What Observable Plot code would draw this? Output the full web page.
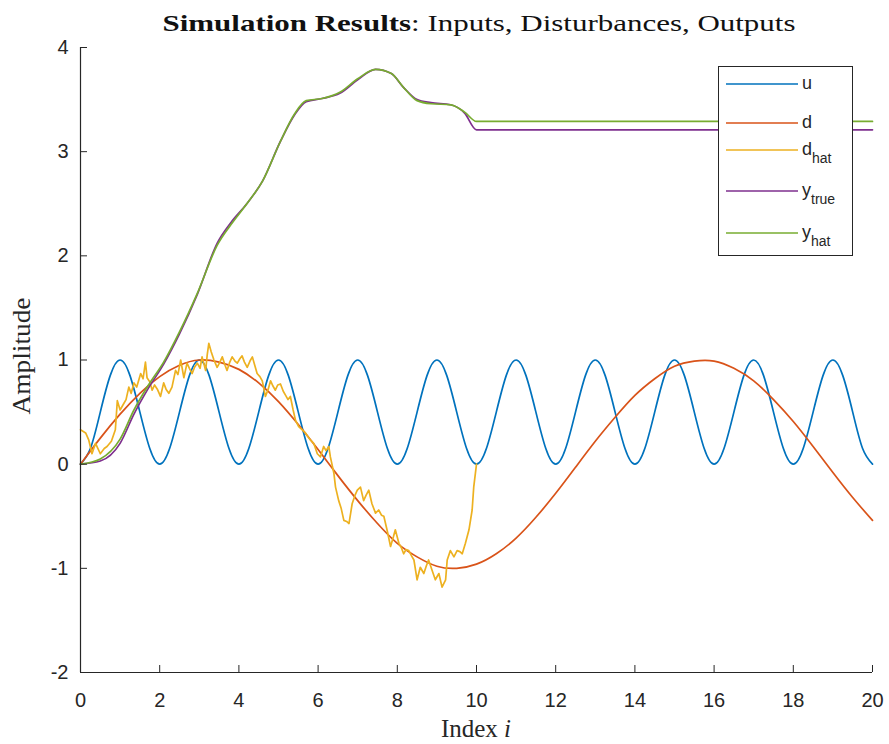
<!DOCTYPE html>
<html><head><meta charset="utf-8">
<script src="https://cdn.jsdelivr.net/npm/d3@7"></script>
<script src="https://cdn.jsdelivr.net/npm/@observablehq/plot@0.6"></script>
<style>
body{margin:0;background:#fff}
#chart{position:relative;width:889px;height:744px}
#chart svg{position:absolute;left:0;top:0}
</style>
</head><body><div id="chart"></div>
<script>
// ---- data ----
const seriesNames = ["u", "d", "d_hat", "y_true", "y_hat"];
const seriesColors = ["#0072BD", "#D95319", "#EDB120", "#7E2F8E", "#77AC30"];
const xTicks = [0, 2, 4, 6, 8, 10, 12, 14, 16, 18, 20];
const yTicks = [-2, -1, 0, 1, 2, 3, 4];

const uX = [0,0.25,0.5,0.75,1,1.25,1.5,1.75,2,2.25,2.5,2.75,3,3.25,3.5,3.75,4,4.25,4.5,4.75,5,5.25,5.5,5.75,6,6.25,6.5,6.75,7,7.25,7.5,7.75,8,8.25,8.5,8.75,9,9.25,9.5,9.75,10,10.25,10.5,10.75,11,11.25,11.5,11.75,12,12.25,12.5,12.75,13,13.25,13.5,13.75,14,14.25,14.5,14.75,15,15.25,15.5,15.75,16,16.25,16.5,16.75,17,17.25,17.5,17.75,18,18.25,18.5,18.75,19,19.25,19.5,19.75,20];
const uY = [0,0.15,0.5,0.85,1,0.85,0.5,0.15, 0,0.15,0.5,0.85,1,0.85,0.5,0.15, 0,0.15,0.5,0.85,1,0.85,0.5,0.15, 0,0.15,0.5,0.85,1,0.85,0.5,0.15, 0,0.15,0.5,0.85,1,0.85,0.5,0.15, 0,0.15,0.5,0.85,1,0.85,0.5,0.15, 0,0.15,0.5,0.85,1,0.85,0.5,0.15, 0,0.15,0.5,0.85,1,0.85,0.5,0.15, 0,0.15,0.5,0.85,1,0.85,0.5,0.15, 0,0.15,0.5,0.85,1,0.85,0.5,0.15, 0];

const dX = [0,0.5,1,1.5,2,2.5,3,3.5,4,4.5,5,5.5,6,6.5,7,7.5,8,8.5,9,9.5,10,10.5,11,11.5,12,12.5,13,13.5,14,14.5,15,15.5,16,16.5,17,17.5,18,18.5,19,19.5,20];
const dY = [0,0.25,0.48,0.68,0.84,0.95,1.0,0.98,0.91,0.78,0.6,0.38,0.14,-0.11,-0.35,-0.57,-0.76,-0.89,-0.98,-1.0,-0.96,-0.86,-0.71,-0.51,-0.28,-0.03,0.22,0.45,0.66,0.82,0.94,0.99,0.99,0.92,0.8,0.62,0.41,0.17,-0.08,-0.32,-0.54];

const dhatX = [0,0.13,0.21,0.29,0.38,0.5,0.6,0.67,0.78,0.88,0.93,1.0,1.09,1.15,1.22,1.28,1.35,1.42,1.52,1.58,1.64,1.68,1.75,1.81,1.87,1.94,2.02,2.1,2.16,2.23,2.31,2.4,2.46,2.53,2.61,2.69,2.75,2.82,2.88,2.95,3.02,3.07,3.16,3.2,3.24,3.3,3.37,3.45,3.52,3.58,3.65,3.7,3.77,3.83,3.9,3.96,4.02,4.08,4.14,4.21,4.28,4.34,4.4,4.46,4.53,4.59,4.67,4.74,4.8,4.86,4.92,4.98,5.05,5.12,5.18,5.24,5.3,5.37,5.43,5.51,5.6,5.68,5.75,5.81,5.89,5.98,6.06,6.14,6.2,6.27,6.31,6.4,6.44,6.52,6.58,6.65,6.72,6.78,6.86,6.93,6.99,7.07,7.15,7.21,7.28,7.36,7.45,7.53,7.6,7.66,7.74,7.83,7.9,7.95,8.04,8.1,8.16,8.22,8.29,8.36,8.42,8.5,8.58,8.67,8.73,8.79,8.88,8.96,9.05,9.13,9.22,9.26,9.34,9.43,9.51,9.58,9.64,9.72,9.81,9.89,9.93,10.0];
const dhatY = [0.33,0.3,0.23,0.1,0.2,0.1,0.15,0.17,0.22,0.33,0.61,0.52,0.58,0.62,0.74,0.68,0.78,0.74,0.87,0.82,0.98,0.83,0.79,0.71,0.76,0.72,0.65,0.78,0.72,0.68,0.74,0.9,0.86,1.0,0.83,0.97,0.92,0.87,0.93,0.97,0.92,1.03,0.9,1.05,1.16,1.08,1.0,0.93,0.98,1.03,0.95,0.9,0.98,1.03,0.99,0.97,1.01,1.04,0.98,0.93,0.99,1.03,0.95,0.87,0.84,0.8,0.65,0.72,0.8,0.75,0.71,0.76,0.77,0.7,0.66,0.62,0.65,0.52,0.42,0.36,0.33,0.3,0.26,0.23,0.2,0.1,0.07,0.17,0.13,0.17,0.07,-0.09,-0.22,-0.35,-0.42,-0.54,-0.55,-0.57,-0.38,-0.3,-0.25,-0.22,-0.35,-0.3,-0.25,-0.38,-0.47,-0.44,-0.49,-0.5,-0.63,-0.79,-0.7,-0.63,-0.76,-0.8,-0.86,-0.82,-0.83,-0.88,-0.92,-1.11,-0.99,-1.05,-0.98,-0.92,-1.02,-1.11,-1.05,-1.18,-1.11,-0.92,-0.83,-0.89,-0.83,-0.84,-0.86,-0.76,-0.63,-0.44,-0.22,0.0];

const yX = [0,0.5,1.0,1.35,1.7,2.1,2.5,2.95,3.45,3.8,4.2,4.6,5.05,5.4,5.7,6.1,6.55,7.0,7.45,7.85,8.15,8.5,8.85,9.35,9.7,10.0,20];
const yTrueY = [0,0.03,0.2,0.48,0.72,0.96,1.25,1.63,2.12,2.32,2.5,2.72,3.1,3.35,3.48,3.51,3.56,3.69,3.79,3.75,3.62,3.5,3.47,3.45,3.37,3.21,3.21];
const yHatY = [0,0.05,0.24,0.52,0.75,0.98,1.27,1.64,2.1,2.3,2.5,2.72,3.1,3.36,3.49,3.51,3.57,3.7,3.79,3.75,3.62,3.49,3.46,3.45,3.38,3.29,3.29];

const titleBold = "Simulation Results";
const titleRest = ": Inputs, Disturbances, Outputs";
const xLabel = "Index ";
const xLabelVar = "i";
const yLabel = "Amplitude";

// ---- build ----
const rows = (xs, ys) => xs.map((x, i) => ({x, y: ys[i]}));
const series = [
  {data: rows(uX, uY), curve: "natural"},
  {data: rows(dX, dY), curve: "natural"},
  {data: rows(dhatX, dhatY), curve: "linear"},
  {data: rows(yX, yTrueY), curve: "monotone-x"},
  {data: rows(yX, yHatY), curve: "monotone-x"}
];
const axisColor = "#262626";
const fmt = d => String(d);

const plot = Plot.plot({
  width: 889,
  height: 744,
  marginLeft: 80,
  marginRight: 17,
  marginTop: 47,
  marginBottom: 72,
  style: "font-family: 'Liberation Sans', Arial, sans-serif; font-size: 20px; color: #262626; background: #fff;",
  x: {domain: [0, 20]},
  y: {domain: [-2, 4]},
  marks: [
    ...series.map((s, i) => Plot.line(s.data, {x: "x", y: "y", stroke: seriesColors[i], strokeWidth: 1.7, curve: s.curve})),
    Plot.ruleX([0], {stroke: axisColor, strokeWidth: 1.2}),
    Plot.ruleY([-2], {stroke: axisColor, strokeWidth: 1.2}),
    Plot.axisX({ticks: xTicks, tickSize: 0, tickPadding: 20, label: null, fontSize: 20, tickFormat: fmt}),
    Plot.axisX({ticks: xTicks, tickSize: -7, tickFormat: () => "", label: null, stroke: axisColor}),
    Plot.axisY({ticks: yTicks, tickSize: 0, tickPadding: 12, label: null, fontSize: 20, tickFormat: fmt}),
    Plot.axisY({ticks: yTicks, tickSize: -7, tickFormat: () => "", label: null, stroke: axisColor})
  ]
});
const chart = document.getElementById("chart");
chart.appendChild(plot);

// overlay svg for title, axis labels and legend
const svg = d3.select(chart).append("svg")
  .attr("width", 889).attr("height", 744)
  .style("pointer-events", "none");
const serif = "'Liberation Serif', 'DejaVu Serif', serif";

// title
const t = svg.append("text")
  .attr("x", 479).attr("y", 31)
  .attr("text-anchor", "middle")
  .attr("font-family", serif).attr("font-size", 24)
  .attr("fill", "#111")
  .attr("textLength", 633).attr("lengthAdjust", "spacingAndGlyphs");
t.append("tspan").attr("font-weight", "bold").text(titleBold);
t.append("tspan").text(titleRest);

// x label
const xl = svg.append("text")
  .attr("x", 476).attr("y", 737)
  .attr("text-anchor", "middle")
  .attr("font-family", serif).attr("font-size", 25)
  .attr("fill", axisColor);
xl.append("tspan").text(xLabel);
xl.append("tspan").attr("font-style", "italic").text(xLabelVar);

// y label
svg.append("text")
  .attr("transform", "translate(30,356) rotate(-90)")
  .attr("text-anchor", "middle")
  .attr("font-family", serif).attr("font-size", 25)
  .attr("fill", axisColor)
  .attr("textLength", 117).attr("lengthAdjust", "spacingAndGlyphs")
  .text(yLabel);

// legend
const lg = svg.append("g");
lg.append("rect").attr("x", 718.5).attr("y", 66.5).attr("width", 134).attr("height", 189)
  .attr("fill", "#ffffff").attr("stroke", axisColor).attr("stroke-width", 1);
const legendY = [84, 123, 150, 191, 233];
const legendMain = ["u", "d", "d", "y", "y"];
const legendSub = ["", "", "hat", "true", "hat"];
seriesNames.forEach((name, i) => {
  const yy = legendY[i];
  lg.append("line").attr("x1", 726).attr("x2", 798).attr("y1", yy).attr("y2", yy)
    .attr("stroke", seriesColors[i]).attr("stroke-width", 1.7);
  const tx = lg.append("text").attr("x", 802).attr("y", yy + 5)
    .attr("text-anchor", "start")
    .attr("font-family", "'Liberation Sans', Arial, sans-serif").attr("font-size", 18)
    .attr("fill", axisColor);
  tx.append("tspan").text(legendMain[i]);
  if (legendSub[i]) tx.append("tspan").attr("dy", 8).attr("font-size", 14).text(legendSub[i]);
});
</script></body></html>
